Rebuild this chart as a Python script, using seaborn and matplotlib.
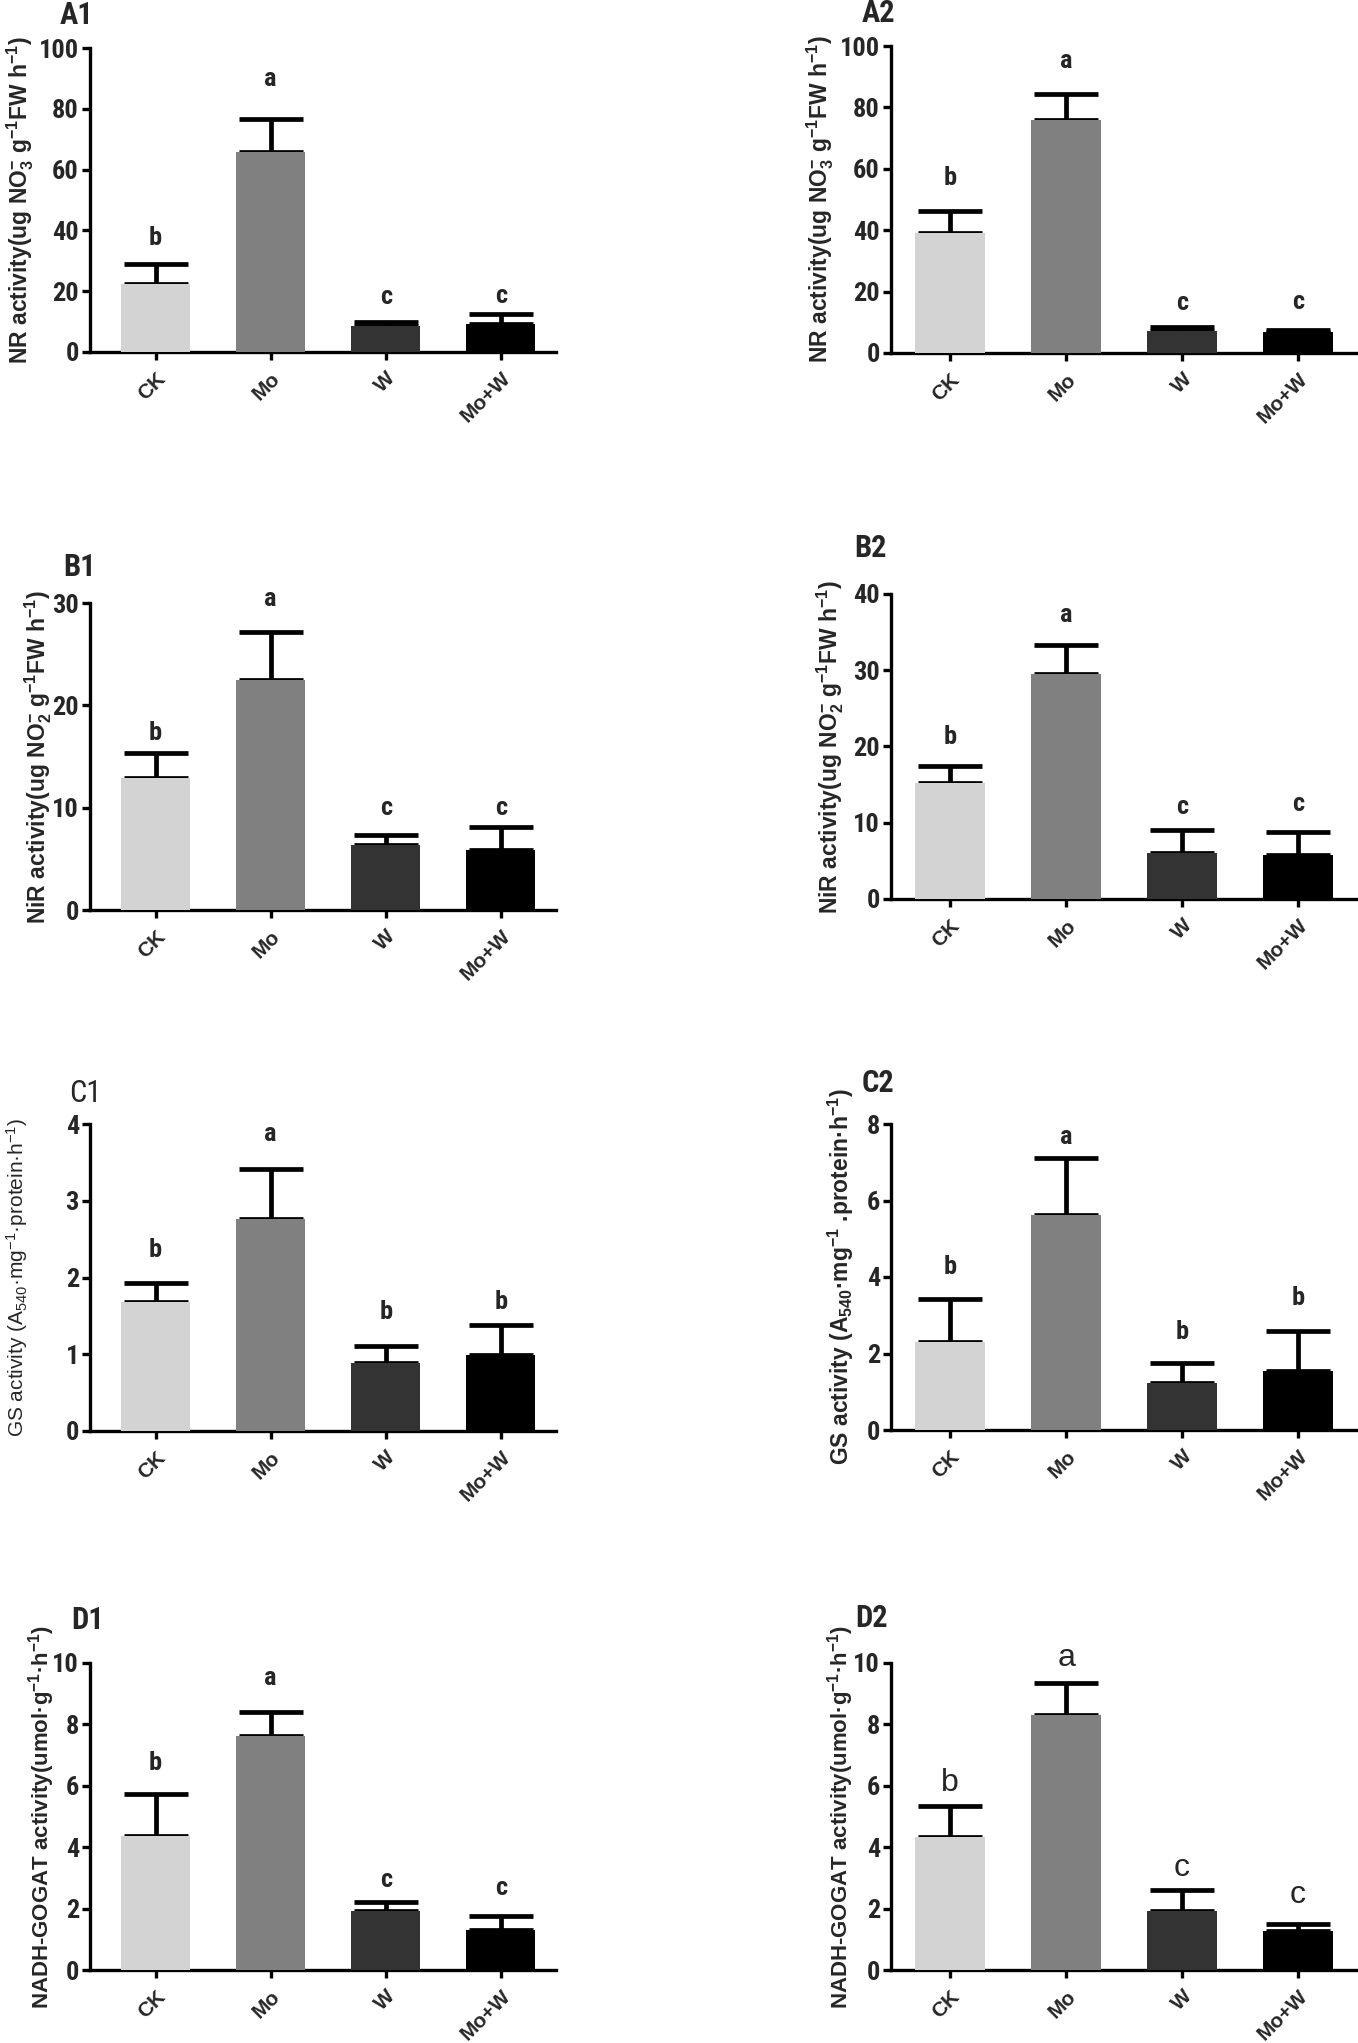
import matplotlib
matplotlib.use("Agg")
import matplotlib.pyplot as plt
from matplotlib import font_manager
import seaborn as sns
import numpy as np

# ---------------- data ----------------
categories = ["CK", "Mo", "W", "Mo+W"]
bar_colors = ["#d3d3d3", "#808080", "#333333", "#000000"]

a1_mean = [22.4, 65.8, 8.6, 9.2]
a1_err = [6.5, 10.8, 1.3, 3.3]
a1_letters = ["b", "a", "c", "c"]
a1_letter_y = [37.5, 89.8, 18.1, 18.4]

a2_mean = [39.1, 75.9, 7.2, 6.8]
a2_err = [7.2, 8.5, 1.3, 0.7]
a2_letters = ["b", "a", "c", "c"]
a2_letter_y = [57.0, 95.0, 16.3, 16.6]

b1_mean = [12.9, 22.5, 6.35, 5.9]
b1_err = [2.4, 4.7, 0.95, 2.2]
b1_letters = ["b", "a", "c", "c"]
b1_letter_y = [17.3, 30.4, 10.0, 10.0]

b2_mean = [15.2, 29.5, 6.0, 5.8]
b2_err = [2.3, 3.8, 3.0, 3.0]
b2_letters = ["b", "a", "c", "c"]
b2_letter_y = [21.3, 37.2, 12.1, 12.4]

c1_mean = [1.68, 2.76, 0.89, 0.99]
c1_err = [0.25, 0.66, 0.22, 0.39]
c1_letters = ["b", "a", "b", "b"]
c1_letter_y = [2.36, 3.87, 1.55, 1.68]

c2_mean = [2.31, 5.62, 1.22, 1.54]
c2_err = [1.11, 1.50, 0.52, 1.05]
c2_letters = ["b", "a", "b", "b"]
c2_letter_y = [4.27, 7.67, 2.57, 3.44]

d1_mean = [4.38, 7.63, 1.92, 1.30]
d1_err = [1.35, 0.79, 0.29, 0.47]
d1_letters = ["b", "a", "c", "c"]
d1_letter_y = [6.74, 9.51, 2.93, 2.66]

d2_mean = [4.33, 8.29, 1.92, 1.28]
d2_err = [1.00, 1.06, 0.69, 0.22]
d2_letters = ["b", "a", "c", "c"]
d2_letter_y = [6.09, 10.16, 3.32, 2.45]

panel_names = ["A1", "A2", "B1", "B2", "C1", "C2", "D1", "D2"]
ylabels = [
    r"NR activity(ug NO$_3^{-}$ g$^{-1}$FW h$^{-1}$)",
    r"NR activity(ug NO$_3^{-}$ g$^{-1}$FW h$^{-1}$)",
    r"NiR activity(ug NO$_2^{-}$ g$^{-1}$FW h$^{-1}$)",
    r"NiR activity(ug NO$_2^{-}$ g$^{-1}$FW h$^{-1}$)",
    r"GS activity (A$_{540}$·mg$^{-1}$·protein·h$^{-1}$)",
    r"GS activity (A$_{540}$·mg$^{-1}$ .protein·h$^{-1}$)",
    r"NADH-GOGAT activity(umol·g$^{-1}$·h$^{-1}$)",
    r"NADH-GOGAT activity(umol·g$^{-1}$·h$^{-1}$)",
]
ymax = [100, 100, 30, 40, 4, 8, 10, 10]
ystep = [20, 20, 10, 10, 1, 2, 2, 2]

# ---------------- fonts ----------------
sns.set_style("ticks")
avail = {f.name for f in font_manager.fontManager.ttflist}
narrow = "Liberation Sans"
for cand in ["Liberation Sans Narrow", "Roboto Condensed", "DejaVu Sans Condensed", "Liberation Sans"]:
    if cand in avail:
        narrow = cand
        break
plt.rcParams["font.family"] = ["Liberation Sans", "DejaVu Sans"]
plt.rcParams["mathtext.default"] = "regular"

W, H = 1358, 2043
fig = plt.figure(figsize=(W / 100, H / 100), dpi=100)

# layout in pixels: (left, top, right, bottom)
boxes = [
    (90, 48, 556, 352), (891, 46, 1356, 353),
    (90, 603, 556, 910), (891, 594, 1356, 899),
    (90, 1124, 556, 1431), (891, 1124, 1356, 1430),
    (90, 1663, 556, 1970), (891, 1663, 1356, 1970),
]
xlims = [(-0.57, 3.48), (-0.51, 3.5)] * 4
panel_pos = [(77, 15), (878, 13), (80, 567), (870, 548), (85, 1093), (878, 1083), (88, 1620), (872, 1618)]
ylabel_x = [20, 820, 38, 830, 17, 841, 42, 841]
ylabel_weight = ["bold", "bold", "bold", "bold", "normal", "bold", "bold", "bold"]
panel_weight = ["bold", "bold", "bold", "bold", "normal", "bold", "bold", "bold"]
ylabel_size = [16.5, 16.5, 16.5, 16.5, 15, 16.5, 16, 16]

means = [a1_mean, a2_mean, b1_mean, b2_mean, c1_mean, c2_mean, d1_mean, d2_mean]
errs = [a1_err, a2_err, b1_err, b2_err, c1_err, c2_err, d1_err, d2_err]
letters = [a1_letters, a2_letters, b1_letters, b2_letters, c1_letters, c2_letters, d1_letters, d2_letters]
letter_ys = [a1_letter_y, a2_letter_y, b1_letter_y, b2_letter_y, c1_letter_y, c2_letter_y, d1_letter_y, d2_letter_y]

for i in range(8):
    l, t, r, b = boxes[i]
    ax = fig.add_axes([l / W, 1 - b / H, (r - l) / W, (b - t) / H])
    sns.barplot(x=categories, y=means[i], hue=categories, palette=bar_colors,
                legend=False, width=0.6, saturation=1, errorbar=None, ax=ax)
    for p in ax.patches:
        p.set_zorder(3)
        p.set_edgecolor("none")
    xs = np.arange(len(categories))
    ax.errorbar(xs, means[i], yerr=[np.zeros(len(xs)), errs[i]], fmt="none",
                ecolor="black", elinewidth=3.4, capsize=23, capthick=3.4, zorder=2)
    ax.set_xlim(*xlims[i])
    ax.set_ylim(0, ymax[i])
    ticks = np.arange(0, ymax[i] + ystep[i] / 2, ystep[i])
    ax.set_yticks(ticks)
    ax.set_yticklabels([f"{v:g}" for v in ticks],
                       fontfamily=narrow, fontweight="bold", fontsize=19)
    ax.set_xticks(xs)
    ax.set_xticklabels(categories, rotation=45, ha="right", rotation_mode="anchor",
                       fontfamily="Liberation Sans", fontweight="bold", fontsize=15)
    ax.tick_params(axis="both", length=6, width=2.4, color="black", pad=2)
    ax.tick_params(axis="x", pad=6)
    sns.despine(ax=ax)
    for s in ["left", "bottom"]:
        ax.spines[s].set_linewidth(2.4)
        ax.spines[s].set_color("black")
    ax.set_xlabel("")
    ax.set_ylabel(ylabels[i], fontsize=ylabel_size[i], fontweight=ylabel_weight[i], va="center")
    ax.yaxis.set_label_coords((ylabel_x[i] - l) / (r - l), 0.5)
    # significance letters
    if i == 7:
        fw, fs, ff = "normal", 23, "Liberation Sans"
    else:
        fw, fs, ff = "bold", 19, narrow
    for x, let, yy in zip(xs, letters[i], letter_ys[i]):
        ax.text(x, yy, let, ha="center", va="center", fontsize=fs, fontweight=fw,
                fontfamily=ff, clip_on=False)
    px, py = panel_pos[i]
    fig.text(px / W, 1 - py / H, panel_names[i], ha="center", va="center",
             fontsize=22, fontweight=panel_weight[i], fontfamily=narrow)

fig.savefig("out.png", dpi=100, facecolor="white")
